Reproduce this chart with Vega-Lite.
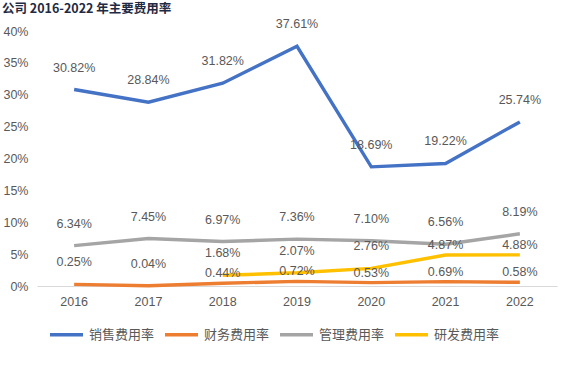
{
  "$schema": "https://vega.github.io/schema/vega-lite/v6.json",
  "width": 520,
  "height": 255,
  "autosize": "none",
  "padding": {"left": 37, "top": 31, "right": 14, "bottom": 92},
  "background": "white",
  "title": {
    "text": "公司 2016-2022 年主要费用率",
    "anchor": "start",
    "frame": "group",
    "dx": -35,
    "offset": 3,
    "font": "Noto Sans CJK SC",
    "fontSize": 12.5,
    "fontWeight": "bold",
    "color": "#1f2a44"
  },
  "config": {
    "view": {"stroke": null},
    "font": "Liberation Sans",
    "axis": {"labelFont": "Liberation Sans", "labelColor": "#595959", "labelFontSize": 12.5}
  },
  "data": {
    "values": [
      {"year": "2016", "series": "销售费用率", "v": 0.3082},
      {"year": "2017", "series": "销售费用率", "v": 0.2884},
      {"year": "2018", "series": "销售费用率", "v": 0.3182},
      {"year": "2019", "series": "销售费用率", "v": 0.3761},
      {"year": "2020", "series": "销售费用率", "v": 0.1869},
      {"year": "2021", "series": "销售费用率", "v": 0.1922},
      {"year": "2022", "series": "销售费用率", "v": 0.2574},
      {"year": "2016", "series": "财务费用率", "v": 0.0025},
      {"year": "2017", "series": "财务费用率", "v": 0.0004},
      {"year": "2018", "series": "财务费用率", "v": 0.0044},
      {"year": "2019", "series": "财务费用率", "v": 0.0072},
      {"year": "2020", "series": "财务费用率", "v": 0.0053},
      {"year": "2021", "series": "财务费用率", "v": 0.0069},
      {"year": "2022", "series": "财务费用率", "v": 0.0058},
      {"year": "2016", "series": "管理费用率", "v": 0.0634},
      {"year": "2017", "series": "管理费用率", "v": 0.0745},
      {"year": "2018", "series": "管理费用率", "v": 0.0697},
      {"year": "2019", "series": "管理费用率", "v": 0.0736},
      {"year": "2020", "series": "管理费用率", "v": 0.0710},
      {"year": "2021", "series": "管理费用率", "v": 0.0656},
      {"year": "2022", "series": "管理费用率", "v": 0.0819},
      {"year": "2018", "series": "研发费用率", "v": 0.0168},
      {"year": "2019", "series": "研发费用率", "v": 0.0207},
      {"year": "2020", "series": "研发费用率", "v": 0.0276},
      {"year": "2021", "series": "研发费用率", "v": 0.0487},
      {"year": "2022", "series": "研发费用率", "v": 0.0488}
    ]
  },
  "encoding": {
    "x": {
      "field": "year", "type": "ordinal",
      "scale": {"type": "band", "paddingInner": 0, "paddingOuter": 0},
      "axis": {"title": null, "labelAngle": 0, "ticks": false, "domainColor": "#d9d9d9", "domainWidth": 1, "labelPadding": 9, "grid": false}
    },
    "y": {
      "field": "v", "type": "quantitative",
      "scale": {"domain": [0, 0.4], "nice": false},
      "axis": {"title": null, "format": ".0%", "values": [0, 0.05, 0.1, 0.15, 0.2, 0.25, 0.3, 0.35, 0.4], "ticks": false, "domain": false, "grid": false, "labelPadding": 9}
    }
  },
  "layer": [
    {
      "mark": {"type": "line", "strokeWidth": 3.4},
      "encoding": {
        "color": {
          "field": "series", "type": "nominal",
          "scale": {"domain": ["销售费用率", "财务费用率", "管理费用率", "研发费用率"], "range": ["#4472C4", "#ED7D31", "#A5A5A5", "#FFC000"]},
          "legend": {
            "title": null, "orient": "none", "direction": "horizontal",
            "legendX": 11, "legendY": 285,
            "symbolType": "stroke", "symbolSize": 1089, "symbolStrokeWidth": 3.4,
            "labelFont": "Noto Sans CJK SC", "labelFontSize": 13, "labelColor": "#595959",
            "labelOffset": 4, "columnPadding": 3, "labelLimit": 200
          }
        }
      }
    },
    {
      "transform": [{"filter": "datum.series == '销售费用率' || datum.series == '管理费用率' || (datum.series == '财务费用率' && (datum.year == '2016' || datum.year == '2017')) || (datum.series == '研发费用率' && datum.year <= '2020')"}],
      "mark": {"type": "text", "dy": -22, "fontSize": 12.5, "color": "#595959", "font": "Liberation Sans"},
      "encoding": {"text": {"field": "v", "type": "quantitative", "format": ".2%"}}
    },
    {
      "transform": [{"filter": "(datum.series == '财务费用率' && datum.year >= '2018') || (datum.series == '研发费用率' && datum.year >= '2021')"}],
      "mark": {"type": "text", "dy": -10, "fontSize": 12.5, "color": "#595959", "font": "Liberation Sans"},
      "encoding": {"text": {"field": "v", "type": "quantitative", "format": ".2%"}}
    }
  ]
}
